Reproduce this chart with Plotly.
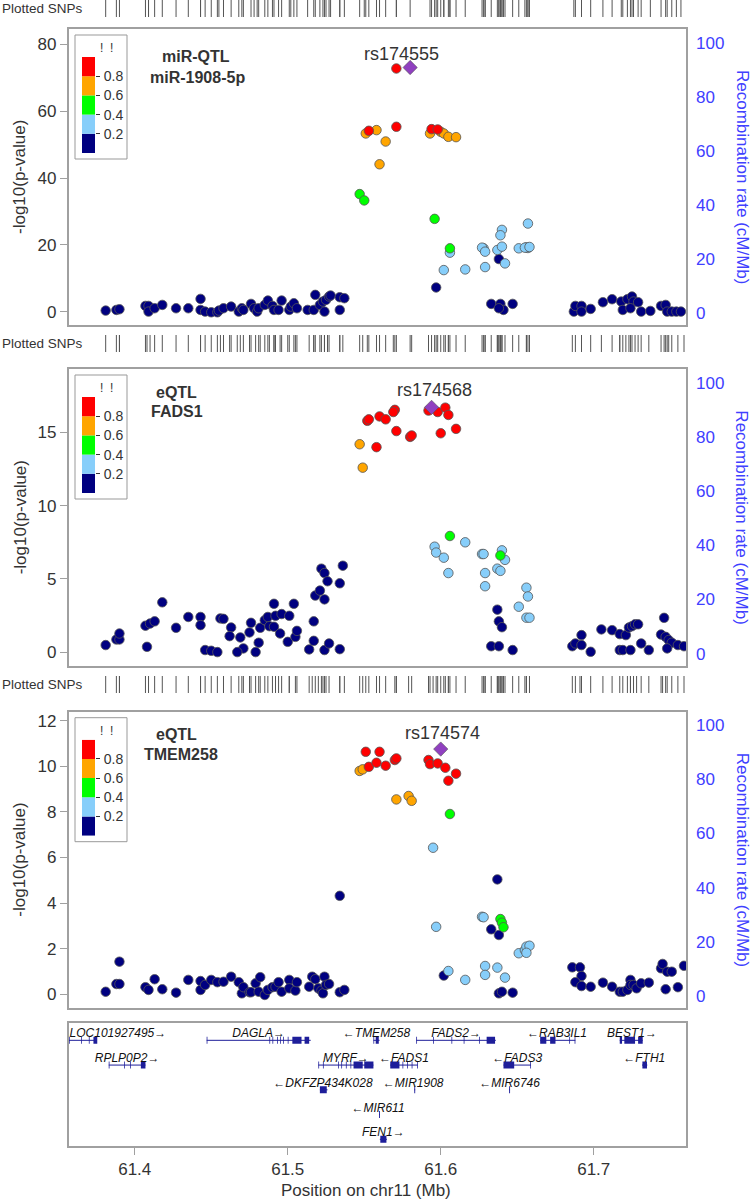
import plotly.graph_objects as go

# ---------------- data ----------------
# (position on chr11 in Mb, -log10 p) grouped by LD r2 bin with the lead SNP

P1_NAVY = [(61.381, 0.4), (61.388, 0.6), (61.390, 0.8), (61.407, 1.8), (61.409, 1.8), (61.409, 0.1),
           (61.413, 1.1), (61.418, 2.1), (61.427, 1.1), (61.435, 1.1), (61.443, 3.9), (61.443, 0.6),
           (61.446, 0.1), (61.450, -0.1), (61.454, -0.1), (61.455, 0.4), (61.458, 1.1), (61.463, 1.6),
           (61.468, 0.1), (61.470, 1.1), (61.471, 0.6), (61.476, 2.4), (61.478, 1.1), (61.480, 0.1),
           (61.481, 1.1), (61.485, 2.1), (61.487, 3.4), (61.490, 1.8), (61.491, 0.6), (61.494, 0.6),
           (61.496, 3.4), (61.501, 0.6), (61.502, 1.6), (61.504, 2.6), (61.506, 1.1), (61.513, 0.6),
           (61.517, 0.6), (61.518, 5.1), (61.521, 2.1), (61.523, 3.1), (61.524, 0.1), (61.525, 3.6),
           (61.527, 4.6), (61.528, 4.9), (61.534, 4.4), (61.537, 4.1), (61.534, 0.6),
           (61.597, 7.3), (61.638, 15.8), (61.633, 2.4), (61.639, 2.4), (61.641, 0.6), (61.647, 2.4),
           (61.638, 1.1),
           (61.687, 0.1), (61.688, 1.8), (61.692, 1.8), (61.692, 0.1), (61.698, 0.9), (61.706, 2.9),
           (61.712, 3.8), (61.718, 3.1), (61.719, 0.6), (61.722, 3.8), (61.725, 4.6), (61.726, 3.1),
           (61.724, 1.1), (61.729, 2.9), (61.731, 0.1), (61.737, 0.3), (61.744, 1.8), (61.747, 2.1),
           (61.748, 0.1), (61.751, 0.1), (61.754, 0.1), (61.757, 0.1)]
P1_LIGHTBLUE = [(61.606, 17.7), (61.602, 12.5), (61.616, 12.7), (61.628, 19.0), (61.627, 19.2),
                (61.629, 18.0), (61.629, 13.4), (61.640, 24.5), (61.639, 22.9), (61.637, 18.5),
                (61.640, 19.5), (61.642, 14.5), (61.651, 19.0), (61.656, 19.3), (61.657, 19.1),
                (61.655, 19.2), (61.658, 19.4), (61.657, 26.4)]
P1_GREEN = [(61.547, 35.2), (61.550, 33.3), (61.596, 27.8), (61.606, 19.0)]
P1_ORANGE = [(61.551, 53.3), (61.558, 54.3), (61.564, 50.9), (61.560, 44.1), (61.593, 53.3),
             (61.600, 53.8), (61.602, 53.3), (61.605, 52.3), (61.610, 52.2)]
P1_RED = [(61.571, 72.7), (61.553, 54.1), (61.571, 55.3), (61.594, 54.6), (61.598, 54.5)]
P1_LEAD = (61.580, 73.0)

P2_NAVY = [(61.381, 0.48), (61.388, 0.86), (61.390, 0.86), (61.390, 1.27), (61.407, 1.8), (61.410, 1.95),
           (61.413, 2.1), (61.408, 0.36), (61.418, 3.4), (61.427, 1.66), (61.435, 2.4), (61.443, 2.4),
           (61.443, 1.84), (61.446, 0.14), (61.450, 0.09), (61.454, 0.0), (61.456, 2.3), (61.458, 2.27),
           (61.463, 1.68), (61.462, 1.09), (61.469, 1.0), (61.471, 0.25), (61.467, 0.0), (61.475, 1.34),
           (61.476, 2.0), (61.479, 0.0), (61.481, 0.64), (61.482, 1.66), (61.485, 2.18), (61.487, 2.4),
           (61.488, 1.77), (61.491, 3.3), (61.491, 1.73), (61.492, 2.48), (61.495, 1.27), (61.496, 2.6),
           (61.501, 2.48), (61.500, 0.7), (61.504, 3.3), (61.505, 1.04), (61.506, 1.45), (61.514, 0.18),
           (61.517, 2.1), (61.517, 0.77), (61.518, 3.86), (61.521, 4.2), (61.524, 3.6), (61.522, 5.7),
           (61.524, 5.4), (61.526, 4.84), (61.534, 4.7), (61.536, 5.9), (61.524, 0.14), (61.527, 0.59),
           (61.534, 0.2),
           (61.637, 2.9), (61.638, 2.1), (61.640, 1.7), (61.633, 0.4), (61.638, 0.4), (61.647, 0.14),
           (61.686, 0.4), (61.688, 0.59), (61.692, 1.16), (61.692, 0.48), (61.698, 0.02), (61.705, 1.55),
           (61.712, 1.5), (61.717, 1.23), (61.721, 1.16), (61.723, 1.68), (61.725, 1.77), (61.727, 1.9),
           (61.729, 1.9), (61.717, 0.14), (61.719, 0.14), (61.724, 0.14), (61.731, 0.59), (61.736, 0.14),
           (61.744, 1.2), (61.746, 2.34), (61.747, 1.04), (61.749, 0.82), (61.751, 0.64), (61.755, 0.48),
           (61.759, 0.4), (61.748, 0.25)]
P2_LIGHTBLUE = [(61.596, 7.2), (61.597, 6.8), (61.602, 6.45), (61.605, 5.4), (61.616, 7.5), (61.627, 6.7),
                (61.628, 6.7), (61.629, 5.4), (61.629, 4.5), (61.640, 6.95), (61.642, 6.3), (61.637, 5.7),
                (61.639, 5.55), (61.656, 4.4), (61.657, 3.8), (61.651, 3.1), (61.656, 2.35), (61.658, 2.35)]
P2_GREEN = [(61.606, 7.93), (61.639, 6.6)]
P2_ORANGE = [(61.547, 14.2), (61.549, 12.6)]
P2_RED = [(61.592, 16.5), (61.598, 16.4), (61.603, 16.7), (61.605, 16.2), (61.600, 14.95), (61.610, 15.25),
          (61.552, 15.8), (61.553, 15.9), (61.560, 16.1), (61.564, 15.9), (61.570, 16.55), (61.569, 16.4),
          (61.571, 15.1), (61.580, 14.7), (61.581, 14.8), (61.558, 14.0)]
P2_LEAD = (61.594, 16.72)

P3_NAVY = [(61.381, 0.11), (61.388, 0.45), (61.390, 0.45), (61.390, 1.43), (61.407, 0.31), (61.409, 0.19),
           (61.413, 0.66), (61.418, 0.22), (61.427, 0.07), (61.435, 0.63), (61.443, 0.58), (61.443, 0.19),
           (61.446, 0.41), (61.450, 0.63), (61.454, 0.53), (61.458, 0.55), (61.463, 0.77), (61.468, 0.53),
           (61.470, 0.04), (61.471, 0.31), (61.475, 0.09), (61.476, 0.09), (61.479, 0.48), (61.481, 0.11),
           (61.482, 0.75), (61.485, -0.03), (61.487, 0.19), (61.490, 0.31), (61.492, 0.33), (61.494, 0.53),
           (61.496, 0.11), (61.501, 0.63), (61.501, 0.26), (61.505, 0.16), (61.506, 0.53), (61.514, 0.33),
           (61.516, 0.77), (61.518, 0.66), (61.520, 0.26), (61.522, 0.16), (61.524, 0.77), (61.523, 0.04),
           (61.525, 0.41), (61.527, 0.45), (61.534, 4.32), (61.534, 0.09), (61.537, 0.19),
           (61.637, 5.04), (61.633, 2.85), (61.638, 2.6), (61.602, 0.82), (61.638, 0.04), (61.640, 0.11),
           (61.647, 0.07),
           (61.686, 1.18), (61.691, 1.18), (61.692, 0.8), (61.688, 0.53), (61.692, 0.36), (61.698, 0.33),
           (61.706, 0.51), (61.712, 0.33), (61.717, 0.11), (61.719, 0.11), (61.722, 0.19), (61.724, 0.63),
           (61.724, 0.41), (61.726, 0.41), (61.728, 0.26), (61.731, 0.48), (61.736, 0.51), (61.744, 1.14),
           (61.745, 1.33), (61.748, 0.99), (61.751, 0.99), (61.747, 0.22), (61.755, 0.31), (61.759, 1.25)]
P3_LIGHTBLUE = [(61.595, 6.43), (61.597, 2.96), (61.627, 3.4), (61.628, 3.38), (61.651, 1.8), (61.655, 1.94),
                (61.656, 2.09), (61.658, 2.13), (61.656, 1.82), (61.605, 1.02), (61.616, 0.63), (61.629, 1.24),
                (61.629, 0.85), (61.637, 1.17), (61.642, 0.73)]
P3_GREEN = [(61.606, 7.91), (61.639, 3.3), (61.640, 3.14), (61.641, 2.94)]
P3_ORANGE = [(61.547, 9.8), (61.549, 9.87), (61.571, 8.55), (61.579, 8.7), (61.581, 8.49)]
P3_RED = [(61.551, 10.64), (61.560, 10.64), (61.553, 9.98), (61.558, 10.16), (61.564, 10.03), (61.570, 10.28),
          (61.571, 10.35), (61.592, 10.28), (61.593, 10.1), (61.598, 10.13), (61.603, 9.94), (61.610, 9.68),
          (61.605, 9.37)]
P3_LEAD = (61.600, 10.76)

LD_BREAKS = ["0.2", "0.4", "0.6", "0.8"]
LD_COLORS = ["#000080", "#87CEFA", "#00FF00", "#FFA500", "#FF0000"]
LEAD_COLOR = "#9040C0"

# genes: name, start, end, row, strand, label centre, exons (start, end)
GENE_NAMES = ["LOC101927495", "RPLP0P2", "DAGLA", "TMEM258", "MYRF", "DKFZP434K028", "MIR611", "FEN1",
              "FADS1", "MIR1908", "FADS2", "FADS3", "MIR6746", "RAB3IL1", "BEST1", "FTH1"]
GENE_START = [61.357, 61.383, 61.447, 61.556, 61.520, 61.521, 61.5597, 61.5602, 61.567, 61.5827,
              61.584, 61.641, 61.6447, 61.665, 61.717, 61.7316]
GENE_END = [61.375, 61.407, 61.515, 61.560, 61.556, 61.526, 61.5603, 61.5648, 61.585, 61.5833,
            61.636, 61.659, 61.6453, 61.688, 61.732, 61.735]
GENE_ROW = [1, 2, 1, 1, 2, 3, 4, 5, 2, 3, 1, 2, 3, 1, 1, 2]
GENE_STRAND = ["+", "+", "+", "-", "+", "-", "-", "+", "-", "-", "+", "-", "-", "-", "+", "-"]
GENE_LABEL_X = [61.389, 61.395, 61.481, 61.558, 61.538, 61.523, 61.559, 61.5625, 61.576, 61.582,
                61.610, 61.650, 61.645, 61.676, 61.725, 61.733]
GENE_EXONS = [
    [(61.357, 61.3575), (61.365, 61.3655), (61.370, 61.3705), (61.373, 61.3755)],
    [(61.383, 61.3835), (61.393, 61.3935), (61.397, 61.3975), (61.404, 61.407)],
    [(61.447, 61.4475), (61.488, 61.4885), (61.490, 61.4905), (61.493, 61.4935), (61.495, 61.4955),
     (61.497, 61.4975), (61.500, 61.5005), (61.503, 61.509), (61.511, 61.514)],
    [(61.556, 61.5565), (61.5575, 61.5595)],
    [(61.520, 61.5205), (61.523, 61.5235), (61.533, 61.5335), (61.535, 61.5355), (61.538, 61.5385),
     (61.541, 61.5415), (61.543, 61.549), (61.550, 61.556)],
    [(61.521, 61.5255)],
    [(61.5597, 61.5603)],
    [(61.5605, 61.5645)],
    [(61.567, 61.573), (61.575, 61.5755), (61.578, 61.5785), (61.581, 61.5815), (61.5845, 61.585)],
    [(61.5827, 61.5833)],
    [(61.584, 61.5845), (61.595, 61.5955), (61.607, 61.6075), (61.615, 61.6155), (61.625, 61.6255),
     (61.630, 61.6355)],
    [(61.641, 61.648), (61.6585, 61.659)],
    [(61.6447, 61.6453)],
    [(61.665, 61.669), (61.6715, 61.675), (61.684, 61.6845), (61.6875, 61.688)],
    [(61.717, 61.7185), (61.720, 61.727), (61.729, 61.732)],
    [(61.7318, 61.7348)],
]

# ---------------- layout constants (pixels in a 752 x 1200 page) ----------------
W, H = 752, 1200
FONT = "Liberation Sans, Arial, sans-serif"
TXT = "#333333"
BORDER = "#A0A0A0"
BLUE = "#4040FF"
GENE_BLUE = "#1E1E9A"
X_RANGE = [61.3567, 61.7603]
X_LEFT, X_RIGHT = 68.5, 686


def fx(p):
    return p / W


def fy(p):
    return 1 - p / H


def ax(kind, n):
    return f"{kind}axis" if n == 1 else f"{kind}axis{n}"


def ref(kind, n):
    return kind if n == 1 else f"{kind}{n}"


def note(text, x, y, size, color=TXT, angle=0, xanchor="center"):
    return dict(text=text, x=fx(x), y=fy(y), xref="paper", yref="paper", xanchor=xanchor,
                yanchor="middle", textangle=angle, showarrow=False,
                font=dict(size=size, color=color, family=FONT))


panels = [
    dict(groups=[P1_NAVY, P1_LIGHTBLUE, P1_GREEN, P1_ORANGE, P1_RED], lead=P1_LEAD, rs="rs174555",
         top=29, bottom=325, yrange=[-3.9, 84.5], yticks=[0, 20, 40, 60, 80],
         labels=[("miR-QTL", 196, 57), ("miR-1908-5p", 197, 77)], rs_shift=(-9, 14), rug=(0, 17)),
    dict(groups=[P2_NAVY, P2_LIGHTBLUE, P2_GREEN, P2_ORANGE, P2_RED], lead=P2_LEAD, rs="rs174568",
         top=369, bottom=665.7, yrange=[-0.93, 19.34], yticks=[0, 5, 10, 15],
         labels=[("eQTL", 176, 392), ("FADS1", 177, 412)], rs_shift=(3, 17), rug=(335, 352)),
    dict(groups=[P3_NAVY, P3_LIGHTBLUE, P3_GREEN, P3_ORANGE, P3_RED], lead=P3_LEAD, rs="rs174574",
         top=711.7, bottom=1007.7, yrange=[-0.59, 12.4], yticks=[0, 2, 4, 6, 8, 10, 12],
         labels=[("eQTL", 176, 734), ("TMEM258", 181, 754)], rs_shift=(2, 16), rug=(676, 693)),
]

fig = go.Figure()
layout = {}
annotations = []
shapes = []

for i, p in enumerate(panels):
    xn, yl, yr = i + 1, 2 * i + 1, 2 * i + 2
    rx, ry = 5 + i, 8 + i
    lx, ly = 8 + i, 11 + i
    xdom = [fx(X_LEFT), fx(X_RIGHT)]
    ydom = [fy(p["bottom"]), fy(p["top"])]

    # association points, low LD first so high LD sits on top
    for pts, col in zip(p["groups"], LD_COLORS):
        fig.add_trace(go.Scatter(
            x=[a for a, b in pts], y=[b for a, b in pts], mode="markers",
            marker=dict(size=9.5, color=col, line=dict(color="#555555", width=0.8)),
            xaxis=ref("x", xn), yaxis=ref("y", yl), showlegend=False, hoverinfo="x+y"))
    fig.add_trace(go.Scatter(
        x=[p["lead"][0]], y=[p["lead"][1]], mode="markers",
        marker=dict(symbol="diamond", size=11, color=LEAD_COLOR, line=dict(color="#555555", width=0.6)),
        xaxis=ref("x", xn), yaxis=ref("y", yl), showlegend=False))
    # empty trace so the recombination axis is drawn
    fig.add_trace(go.Scatter(x=[], y=[], xaxis=ref("x", xn), yaxis=ref("y", yr), showlegend=False))

    layout[ax("x", xn)] = dict(domain=xdom, range=X_RANGE, anchor=ref("y", yl), showline=True, mirror=True,
                               linecolor=BORDER, linewidth=1.5, showticklabels=False, ticks="",
                               showgrid=False, zeroline=False)
    layout[ax("y", yl)] = dict(domain=ydom, range=p["yrange"], anchor=ref("x", xn), tickvals=p["yticks"],
                               ticks="outside", ticklen=7, tickcolor=BORDER, tickwidth=1.2,
                               tickfont=dict(size=17, color=TXT, family=FONT),
                               showline=True, mirror=True, linecolor=BORDER, linewidth=1.5,
                               showgrid=False, zeroline=False)
    layout[ax("y", yr)] = dict(overlaying=ref("y", yl), anchor=ref("x", xn), side="right",
                               range=[-4.44, 105.07], tickvals=[0, 20, 40, 60, 80, 100], ticks="",
                               tickfont=dict(size=17, color=BLUE, family=FONT), ticklabelstandoff=9,
                               showline=False, showgrid=False, zeroline=False)

    # "Plotted SNPs" rug
    all_pos = sorted(a for g in p["groups"] for a, b in g) + [p["lead"][0]]
    fig.add_trace(go.Scatter(
        x=all_pos, y=[0] * len(all_pos), mode="markers",
        marker=dict(symbol="line-ns", size=17, line=dict(color="#555555", width=1)),
        xaxis=ref("x", rx), yaxis=ref("y", ry), showlegend=False, hoverinfo="x"))
    layout[ax("x", rx)] = dict(domain=xdom, range=X_RANGE, anchor=ref("y", ry), visible=False)
    layout[ax("y", ry)] = dict(domain=[fy(p["rug"][1]), fy(p["rug"][0])], range=[-0.5, 0.5],
                               anchor=ref("x", rx), visible=False)
    annotations.append(note("Plotted SNPs", 0, (p["rug"][0] + p["rug"][1]) / 2, 13.5, xanchor="left"))

    # r2 colour key
    t = p["top"]
    fig.add_trace(go.Bar(x=[0] * 5, y=[0.2] * 5, base=[0, 0.2, 0.4, 0.6, 0.8], width=1,
                         marker=dict(color=LD_COLORS, line=dict(width=0)),
                         xaxis=ref("x", lx), yaxis=ref("y", ly), showlegend=False, hoverinfo="skip"))
    layout[ax("x", lx)] = dict(domain=[fx(82), fx(95)], range=[-0.5, 0.5], anchor=ref("y", ly), visible=False)
    layout[ax("y", ly)] = dict(domain=[fy(t + 124), fy(t + 28)], range=[0, 1], anchor=ref("x", lx),
                               side="right", tickvals=[0.2, 0.4, 0.6, 0.8], ticktext=LD_BREAKS,
                               ticks="outside", ticklen=4, tickcolor=TXT, ticklabelstandoff=1,
                               tickfont=dict(size=14, color=TXT, family=FONT),
                               showline=False, showgrid=False, zeroline=False)
    shapes.append(dict(type="rect", xref="paper", yref="paper", x0=fx(75), x1=fx(127),
                       y0=fy(t + 130), y1=fy(t + 6), line=dict(color="#999999", width=1)))
    annotations.append(note("!  !", 106, t + 19, 12))

    # panel titles and lead SNP name
    for txt, x, y in p["labels"]:
        annotations.append(note(f"<b>{txt}</b>", x, y, 16))
    annotations.append(dict(text=p["rs"], x=p["lead"][0], y=p["lead"][1], xref=ref("x", xn),
                            yref=ref("y", yl), xshift=p["rs_shift"][0], yshift=p["rs_shift"][1],
                            xanchor="center", yanchor="middle", showarrow=False,
                            font=dict(size=18, color=TXT, family=FONT)))
    ymid = (p["top"] + p["bottom"]) / 2
    annotations.append(note("-log10(p-value)", 20, ymid, 17, angle=-90))
    annotations.append(note("Recombination rate (cM/Mb)", 742, ymid, 17, color=BLUE, angle=90))

# ---------------- gene track ----------------
gx, gy = 4, 7
line_x, line_y, ex_x, ex_y = [], [], [], []
for s, e, r, exons in zip(GENE_START, GENE_END, GENE_ROW, GENE_EXONS):
    line_x += [s, e, None]
    line_y += [r, r, None]
    for a, b in exons:
        ex_x += [a, b, None]
        ex_y += [r, r, None]
fig.add_trace(go.Scatter(x=line_x, y=line_y, mode="lines", line=dict(color=GENE_BLUE, width=1),
                         xaxis=ref("x", gx), yaxis=ref("y", gy), showlegend=False, hoverinfo="skip"))
fig.add_trace(go.Scatter(x=ex_x, y=ex_y, mode="lines", line=dict(color=GENE_BLUE, width=7),
                         xaxis=ref("x", gx), yaxis=ref("y", gy), showlegend=False, hoverinfo="skip"))
gene_text = [f"<i>{n}→</i>" if st == "+" else f"<i>←{n}</i>" for n, st in zip(GENE_NAMES, GENE_STRAND)]
fig.add_trace(go.Scatter(x=GENE_LABEL_X, y=GENE_ROW, mode="text", text=gene_text,
                         textposition="top center", textfont=dict(size=12, color="#111111", family=FONT),
                         xaxis=ref("x", gx), yaxis=ref("y", gy), showlegend=False, hoverinfo="skip"))
layout[ax("x", gx)] = dict(domain=[fx(X_LEFT), fx(X_RIGHT)], range=X_RANGE, anchor=ref("y", gy),
                           tickvals=[61.4, 61.5, 61.6, 61.7], ticktext=["61.4", "61.5", "61.6", "61.7"],
                           ticks="outside", ticklen=7, tickcolor=BORDER, tickwidth=1.2,
                           tickfont=dict(size=17, color=TXT, family=FONT),
                           showline=True, mirror=True, linecolor=BORDER, linewidth=1.5,
                           showgrid=False, zeroline=False)
layout[ax("y", gy)] = dict(domain=[fy(1146), fy(1023)], range=[5.27, 0.30], anchor=ref("x", gx),
                           showticklabels=False, ticks="", showline=True, mirror=True,
                           linecolor=BORDER, linewidth=1.5, showgrid=False, zeroline=False)
annotations.append(note("Position on chr11 (Mb)", 366, 1190, 17))

fig.update_layout(**layout)
fig.update_layout(width=W, height=H, autosize=False, margin=dict(l=0, r=0, t=0, b=0),
                  paper_bgcolor="white", plot_bgcolor="rgba(0,0,0,0)", showlegend=False,
                  annotations=annotations, shapes=shapes, font=dict(family=FONT, color=TXT))

# the page body has a default 8px margin; drop it so the figure fills the window
fig.write_html("out.html", config={"displayModeBar": False},
               post_script="document.body.style.margin='0px';")
